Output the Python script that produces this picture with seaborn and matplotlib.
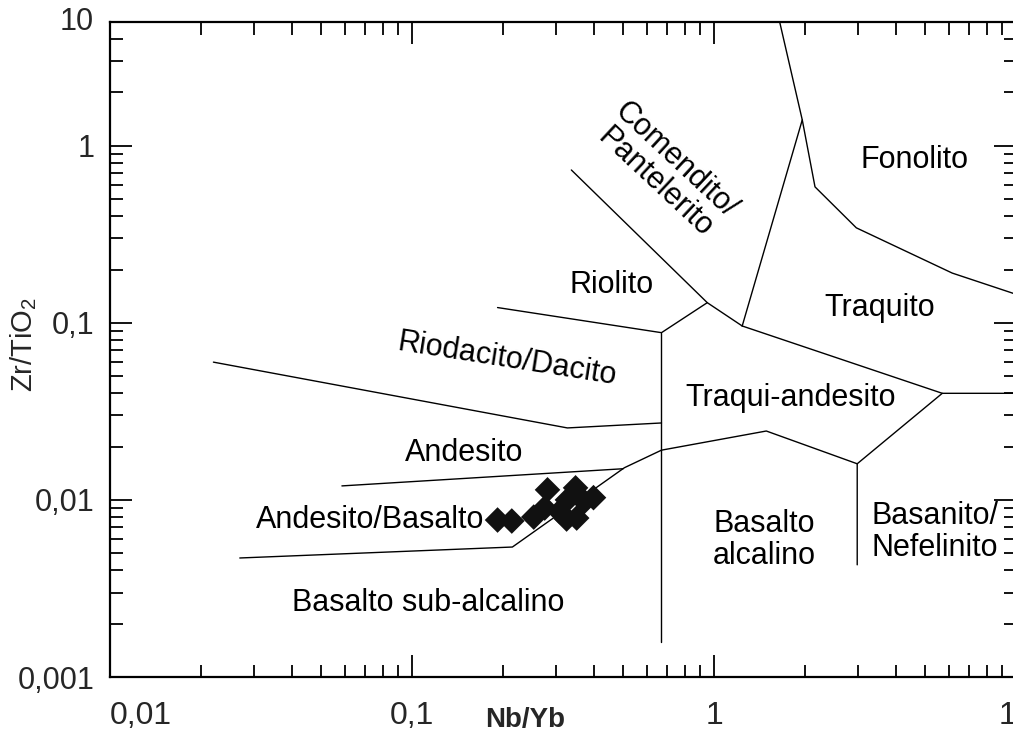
import matplotlib
matplotlib.use("Agg")
import matplotlib.pyplot as plt
from matplotlib.ticker import LogLocator, NullFormatter, FixedLocator, FixedFormatter
import pandas as pd
import seaborn as sns

# Sample compositions
nb_yb = [0.192, 0.214, 0.253, 0.275, 0.281, 0.308, 0.325, 0.327, 0.348, 0.351, 0.372, 0.399]
zr_tio2 = [0.0077, 0.0076, 0.0080, 0.0090, 0.0114, 0.0086, 0.0078, 0.0100, 0.0117, 0.0079, 0.0098, 0.0103]

# Field boundaries (Nb/Yb, Zr/TiO2 vertices)
riolito_base_x = [0.192, 0.67]
riolito_base_y = [0.122, 0.088]
riolito_right_x = [0.67, 0.95, 1.24]
riolito_right_y = [0.088, 0.130, 0.096]
comendito_x = [0.337, 0.95]
comendito_y = [0.73, 0.130]
traquito_left_x = [1.24, 1.96]
traquito_left_y = [0.096, 1.40]
fonolito_x = [1.65, 1.96, 2.16, 2.96, 6.15, 10.0]
fonolito_y = [5.0, 1.40, 0.586, 0.344, 0.191, 0.145]
traquito_base_x = [1.24, 5.70, 10.0]
traquito_base_y = [0.096, 0.040, 0.040]
basanito_x = [5.70, 2.98, 2.98]
basanito_y = [0.040, 0.016, 0.0043]
traquiandesito_base_x = [0.67, 1.49, 2.98]
traquiandesito_base_y = [0.0191, 0.0245, 0.016]
alcalino_x = [0.67, 0.67]
alcalino_y = [0.088, 0.00158]
riodacito_base_x = [0.022, 0.327, 0.67]
riodacito_base_y = [0.060, 0.0255, 0.0272]
andesito_base_x = [0.0586, 0.50]
andesito_base_y = [0.0120, 0.0150]
subalcalino_top_x = [0.0269, 0.215, 0.505, 0.67]
subalcalino_top_y = [0.0047, 0.00542, 0.0152, 0.0191]

segments = [
    (riolito_base_x, riolito_base_y),
    (riolito_right_x, riolito_right_y),
    (comendito_x, comendito_y),
    (traquito_left_x, traquito_left_y),
    (fonolito_x, fonolito_y),
    (traquito_base_x, traquito_base_y),
    (basanito_x, basanito_y),
    (traquiandesito_base_x, traquiandesito_base_y),
    (alcalino_x, alcalino_y),
    (riodacito_base_x, riodacito_base_y),
    (andesito_base_x, andesito_base_y),
    (subalcalino_top_x, subalcalino_top_y),
]
rows = []
for i, (xs, ys) in enumerate(segments):
    for j, (xv, yv) in enumerate(zip(xs, ys)):
        rows.append({"seg": i, "order": j, "x": xv, "y": yv})
lines = pd.DataFrame(rows)

# Field names with their anchor, rotation and alignment
field_names = ["Fonolito", "Comendito/\nPantelerito", "Riolito", "Traquito",
               "Riodacito/Dacito", "Traqui-andesito", "Andesito",
               "Andesito/Basalto", "Basalto\nalcalino", "Basanito/\nNefelinito",
               "Basalto sub-alcalino"]
field_x = [4.60, 0.69, 0.458, 3.53, 0.207, 1.79, 0.149, 0.0724, 1.47, 3.32, 0.1128]
field_y = [0.834, 0.72, 0.164, 0.121, 0.0618, 0.0377, 0.0184, 0.0077, 0.00594, 0.00659, 0.00262]
field_rot = [0, -43, 0, 0, -9, 0, 0, 0, 0, 0, 0]
field_ha = ["center", "center", "center", "center", "center", "center", "center",
            "center", "center", "left", "center"]

x_ticks = [0.01, 0.1, 1, 10]
x_ticklabels = ["0,01", "0,1", "1", "10"]
y_ticks = [0.001, 0.01, 0.1, 1]
y_ticklabels = ["0,001", "0,01", "0,1", "1"]

sns.set_style("ticks")
plt.rcParams["font.family"] = ["Liberation Sans", "DejaVu Sans"]
plt.rcParams["mathtext.fontset"] = "custom"
plt.rcParams["mathtext.rm"] = "Liberation Sans"

W, H = 1013, 738
fig = plt.figure(figsize=(W / 100, H / 100), dpi=100)
ax = fig.add_axes([110 / W, 61 / H, 906 / W, 655 / H])
ax.set_xscale("log")
ax.set_yscale("log")

sns.lineplot(data=lines, x="x", y="y", units="seg", estimator=None, sort=False,
             color="black", linewidth=1.0, ax=ax, legend=False)
sns.scatterplot(x=nb_yb, y=zr_tio2, marker="D", s=170, color="#111111",
                edgecolor="none", ax=ax, legend=False, zorder=5)

ax.set_xlim(0.01, 10)
ax.set_ylim(0.001, 5)

for spine in ax.spines.values():
    spine.set_linewidth(1.6)
    spine.set_color("black")

ax.xaxis.set_major_locator(FixedLocator(x_ticks))
ax.xaxis.set_major_formatter(FixedFormatter(x_ticklabels))
ax.yaxis.set_major_locator(FixedLocator(y_ticks))
ax.yaxis.set_major_formatter(FixedFormatter(y_ticklabels))
ax.xaxis.set_minor_locator(LogLocator(base=10, subs=range(2, 10), numticks=20))
ax.yaxis.set_minor_locator(LogLocator(base=10, subs=range(2, 10), numticks=20))
ax.xaxis.set_minor_formatter(NullFormatter())
ax.yaxis.set_minor_formatter(NullFormatter())

ax.tick_params(which="both", direction="in", top=True, right=True,
               color="black", width=1.3)
ax.tick_params(which="major", length=16)
ax.tick_params(which="minor", length=9)
ax.tick_params(axis="y", which="major", pad=11, labelsize=22)
ax.tick_params(axis="x", which="major", pad=17, labelsize=23)

ax.get_xticklabels()[0].set_horizontalalignment("left")

# Upper limit label of the ordinate
ax.text(-0.0177, 1.0, "10", transform=ax.transAxes, ha="right",
        va="center", fontsize=22)

ax.set_xlabel("Nb/Yb", fontsize=20, fontweight="bold")
ax.xaxis.set_label_coords(0.458, -0.046)
ax.set_ylabel(r"Zr/TiO$_2$", fontsize=21)
ax.yaxis.set_label_coords(-0.078, 0.507)

for name, fx, fy, rot, ha in zip(field_names, field_x, field_y, field_rot, field_ha):
    ax.text(fx, fy, name, fontsize=22, rotation=rot, ha=ha, va="center",
            rotation_mode="anchor", linespacing=1.05, color="black")

fig.savefig("out.png", dpi=100)
